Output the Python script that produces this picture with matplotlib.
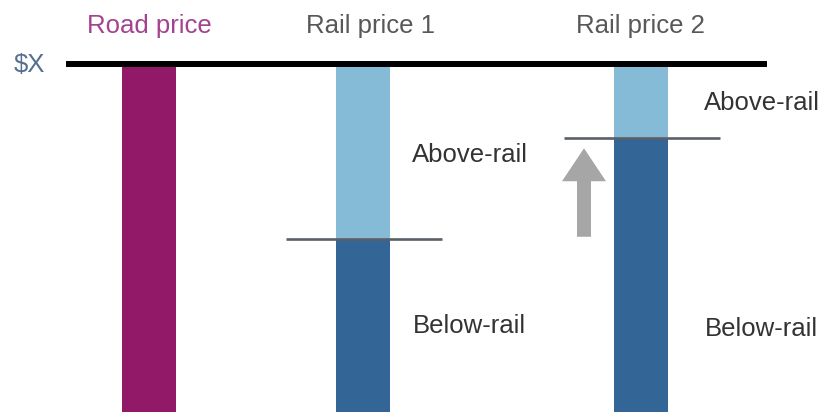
import matplotlib.pyplot as plt
from matplotlib.patches import FancyArrow

plt.rcParams['font.family'] = ['Liberation Sans', 'DejaVu Sans']

# values as share of the road price ($X = 100)
categories = ["Road price", "Rail price 1", "Rail price 2"]
below_rail = [100, 50, 79]
above_rail = [0, 50, 21]
top_price = 100

# layout (pixel-like x positions across the 822 px canvas)
xpos = [149, 362.5, 640.5]
bar_w = 54
road_col = "#921868"
light_col = "#86bbd8"
dark_col = "#336596"
fs = 18.5

fig = plt.figure(figsize=(8.22, 4.12), dpi=100)
ax = fig.add_axes([0, 0, 1, 1])
ax.set_xlim(0, 822)
ax.set_ylim(0, top_price * 412 / 347)
ax.axis("off")

# bars
ax.bar(xpos[0], below_rail[0], width=bar_w, color=road_col)
ax.bar(xpos[1:], below_rail[1:], width=bar_w, color=dark_col)
ax.bar(xpos[1:], above_rail[1:], bottom=below_rail[1:], width=bar_w, color=light_col)

# $X line
ax.plot([66, 767], [top_price + 0.3, top_price + 0.3], color="black", lw=4.3,
        solid_capstyle="butt")
ax.text(45, 97.9, "$X", ha="right", va="baseline", fontsize=fs, color="#566f8f")

# threshold lines
for x, b in zip(xpos[1:], below_rail[1:]):
    ax.plot([x - 77, x + 79], [b, b], color="#5a6068", lw=1.9, solid_capstyle="butt")

# headings
head_y = 109.2
ax.text(xpos[0], head_y, categories[0], ha="center", va="baseline", fontsize=fs,
        color="#a3428f")
for x, dx, c in zip(xpos[1:], [7.5, 0], categories[1:]):
    ax.text(x + dx, head_y, c, ha="center", va="baseline", fontsize=fs, color="#585858")

# annotations
txt = dict(ha="left", va="baseline", fontsize=fs, color="#333333")
ax.text(412, 72.0, "Above-rail", **txt)
ax.text(413, 22.8, "Below-rail", **txt)
ax.text(704, 87.0, "Above-rail", **txt)
ax.text(705, 22.0, "Below-rail", **txt)

# upward arrow
ax.add_patch(FancyArrow(584, 50.5, 0, 25.5, width=14, head_width=44,
                        head_length=9.5, length_includes_head=True,
                        color="#a6a6a6", lw=0))

fig.savefig("out.png", dpi=100)
